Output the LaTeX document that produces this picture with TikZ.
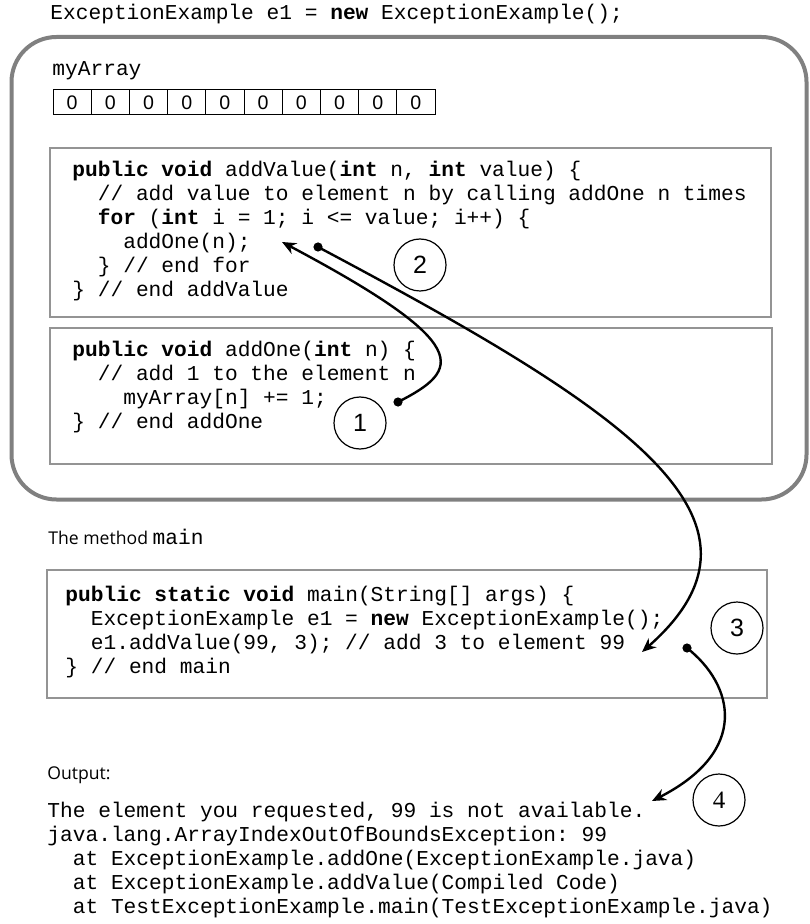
\documentclass[tikz,border=0pt]{standalone}
\usepackage{fontspec}
\setmainfont{Liberation Sans}
\setmonofont{Liberation Mono}
\newfontfamily\labelfont{Open Sans}
\newfontfamily\serifdigits{Liberation Serif}
\usetikzlibrary{arrows.meta,positioning}
\definecolor{framegray}{gray}{0.5}
\definecolor{boxgray}{gray}{0.58}

\begin{document}
\begin{tikzpicture}[x=0.5pt, y=-0.5pt,
  code/.style={anchor=north west, inner sep=0pt, align=left, font=\ttfamily\fontsize{10.6}{12}\selectfont},
  codebox/.style={draw=boxgray, line width=0.7pt},
  cell/.style={draw, line width=0.5pt, minimum width=19.1pt, minimum height=12.5pt, inner sep=0pt, font=\fontsize{9.8}{11}\selectfont},
  callout/.style={draw, circle, line width=0.6pt, minimum size=26pt, inner sep=0pt, font=\fontsize{12.5}{14}\selectfont},
  flow/.style={-{Stealth[length=7pt,width=6pt]}, line width=1.2pt},
  note/.style={anchor=west, inner sep=0pt, font=\labelfont\fontsize{8.8}{10}\selectfont}]
\useasboundingbox (0,0) rectangle (809,924);

% object e1 and its array
\node[code] (decl) at (50,4) {ExceptionExample e1 = \textbf{new} ExceptionExample();};
\draw[line width=2pt, framegray, rounded corners=22.5pt] (11.5,37) rectangle (806.5,499.5);
\node[code] (arrname) at (52,61) {myArray};
\foreach \i in {0,...,9}
  \node[cell] (m\i) at ({72.1+38.2*\i},102.5) {0};

% the two methods
\draw[codebox] (50,148) rectangle (771,317);
\node[code] (addvalue) at (72,161) {\textbf{public void} addValue(\textbf{int} n, \textbf{int} value) \{\\
\ \ // add value to element n by calling addOne n times\\
\ \ \textbf{for} (\textbf{int} i = 1; i <= value; i++) \{\\
\ \ \ \ addOne(n);\\
\ \ \} // end for\\
\} // end addValue};
\draw[codebox] (50,328) rectangle (772,464);
\node[code] (addone) at (72,341) {\textbf{public void} addOne(\textbf{int} n) \{\\
\ \ // add 1 to the element n\\
\ \ \ \ myArray[n] += 1;\\
\} // end addOne};

% main
\node[note] (mainlabel) at (48,537) {The method {\ttfamily\fontsize{10.6}{12}\selectfont main}};
\draw[codebox] (47,570) rectangle (767,698);
\node[code] (main) at (65,586) {\textbf{public static void} main(String[] args) \{\\
\ \ ExceptionExample e1 = \textbf{new} ExceptionExample();\\
\ \ e1.addValue(99, 3); // add 3 to element 99\\
\} // end main};

% output
\node[note] (outlabel) at (47,775) {Output:};
\node[code] (output) at (47,802) {The element you requested, 99 is not available.\\
java.lang.ArrayIndexOutOfBoundsException: 99\\
\ \ at ExceptionExample.addOne(ExceptionExample.java)\\
\ \ at ExceptionExample.addValue(Compiled Code)\\
\ \ at TestExceptionExample.main(TestExceptionExample.java)};

% numbered steps
\node[callout] (c1) at (360,423) {1};
\node[callout] (c2) at (420,265) {2};
\node[callout] (c3) at (737,628) {3};
\node[callout, font=\serifdigits\fontsize{12.5}{14}\selectfont] (c4) at (719,800) {4};

% calls and returns
\coordinate (s1) at (398,402); \coordinate (t1) at (282,242);
\coordinate (s2) at (318,247); \coordinate (t2) at (642,652);
\coordinate (s3) at (687,648); \coordinate (t3) at (652,801);
\draw[flow] (s1) .. controls (461,370) and (476,345) .. (t1);
\draw[flow] (s2) .. controls (627,411) and (792,520) .. (t2);
\draw[flow] (s3) .. controls (734,685) and (750,751) .. (t3);
\foreach \p in {s1,s2,s3}
  \fill (\p) circle[radius=2.3pt];
\end{tikzpicture}
\end{document}
